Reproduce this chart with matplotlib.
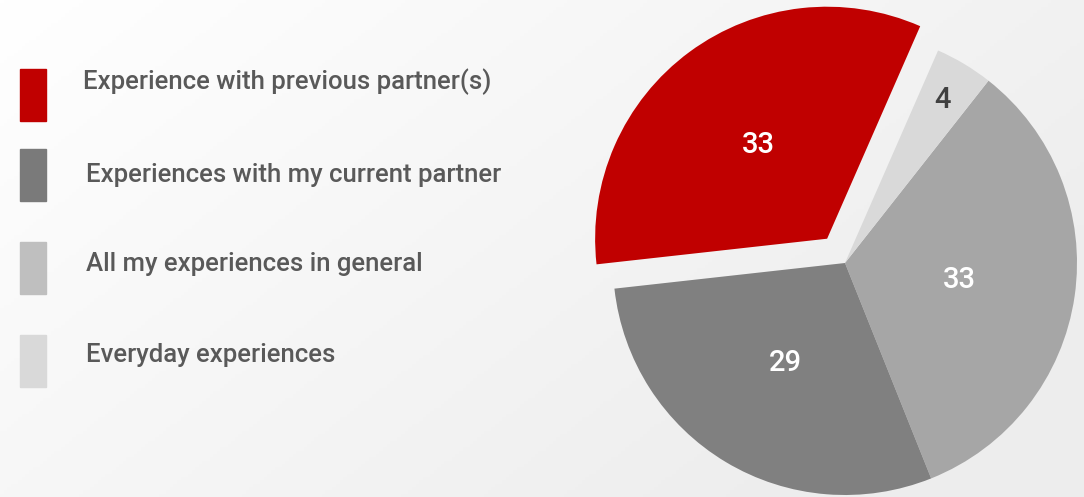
import numpy as np
import matplotlib
matplotlib.use("Agg")
from matplotlib import pyplot as plt
from matplotlib.patches import Rectangle

# legend entries (top to bottom) and their swatch colours
legend_labels = ["Experience with previous partner(s)",
                 "Experiences with my current partner",
                 "All my experiences in general",
                 "Everyday experiences"]
legend_colors = ["#C00000", "#7A7A7A", "#BFBFBF", "#D9D9D9"]

# pie slices, counterclockwise from the lower right
slice_values = [33, 4, 33, 29]
slice_colors = ["#A6A6A6", "#D9D9D9", "#C00000", "#808080"]
slice_text_colors = ["white", "#404040", "white", "white"]
slice_explode = [0, 0, 0.13, 0]

W, H = 1084, 497
plt.rcParams['font.family'] = ['Roboto', 'DejaVu Sans']
fig = plt.figure(figsize=(W / 100, H / 100), dpi=100)

# soft grey gradient background
bg = fig.add_axes([0, 0, 1, 1])
gx, gy = np.meshgrid(np.linspace(0, 1, 300), np.linspace(0, 1, 150))
g = np.clip(0.75 * gx + 0.45 * gy, 0, 1)
shade = 1.0 - 0.07 * g
bg.imshow(np.dstack([shade, shade, shade]), extent=[0, 1, 0, 1],
          aspect="auto", origin="upper")
bg.set_xlim(0, 1)
bg.set_ylim(0, 1)
bg.axis("off")

# legend drawn by hand
sw_top = [69, 149, 242, 335]
txt_y = [82, 175, 264, 355]
txt_x = [83, 86, 86, 86]
for i, (lab, col) in enumerate(zip(legend_labels, legend_colors)):
    fig.patches.append(Rectangle((20 / W, 1 - (sw_top[i] + 52) / H), 26 / W, 52 / H,
                                 transform=fig.transFigure, color=col, zorder=3))
    fig.text(txt_x[i] / W, 1 - txt_y[i] / H, lab, fontsize=18.5, color="#595959",
             va="center", ha="left", fontweight="medium")

# pie
cx, cy, r = 845, 497 - 263, 232
half = 250
ax = fig.add_axes([(cx - half) / W, (cy - half) / H, 2 * half / W, 2 * half / H])
total = sum(slice_values)
wedges, texts, autotexts = ax.pie(
    slice_values, colors=slice_colors, explode=slice_explode,
    startangle=-68.2, counterclock=True, radius=1.0,
    autopct=lambda p: "%d" % round(p * total / 100.0), pctdistance=0.5,
    textprops=dict(fontsize=21, fontweight="medium"))
for t, c in zip(autotexts, slice_text_colors):
    t.set_color(c)

# the small slice keeps its number near the rim
w = wedges[1]
mid = np.deg2rad((w.theta1 + w.theta2) / 2)
autotexts[1].set_position((0.82 * np.cos(mid), 0.82 * np.sin(mid)))

lim = half / r
ax.set_xlim(-lim, lim)
ax.set_ylim(-lim, lim)
ax.axis("off")

fig.savefig("out.png", dpi=100)
